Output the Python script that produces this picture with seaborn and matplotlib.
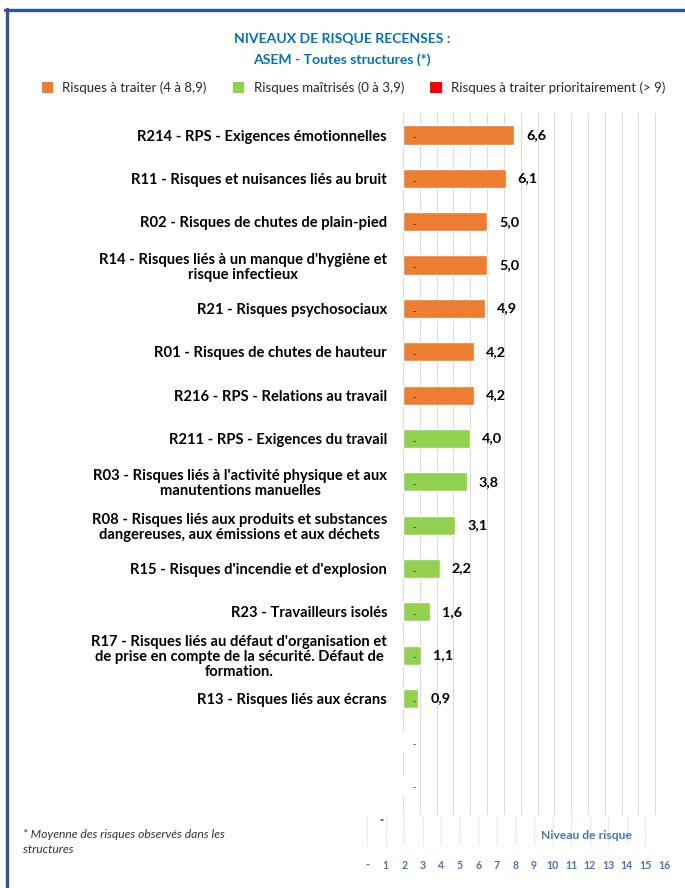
import matplotlib
matplotlib.use("Agg")
import matplotlib.pyplot as plt
from matplotlib.patches import Patch
from matplotlib.lines import Line2D
import seaborn as sns
import pandas as pd

# ---- data ----
categories = [
    "R214 - RPS - Exigences émotionnelles",
    "R11 - Risques et nuisances liés au bruit",
    "R02 - Risques de chutes de plain-pied",
    "R14 - Risques liés à un manque d'hygiène et\nrisque infectieux",
    "R21 - Risques psychosociaux",
    "R01 - Risques de chutes de hauteur",
    "R216 - RPS - Relations au travail",
    "R211 - RPS - Exigences du travail",
    "R03 - Risques liés à l'activité physique et aux\nmanutentions manuelles",
    "R08 - Risques liés aux produits et substances\ndangereuses, aux émissions et aux déchets",
    "R15 - Risques d'incendie et d'explosion",
    "R23 - Travailleurs isolés",
    "R17 - Risques liés au défaut d'organisation et\nde prise en compte de la sécurité. Défaut de\nformation.",
    "R13 - Risques liés aux écrans",
    " ",
    "  ",
]
values = [6.6, 6.1, 5.0, 5.0, 4.9, 4.2, 4.2, 4.0, 3.8, 3.1, 2.2, 1.6, 1.1, 0.9, 0.0, 0.0]
status = ["traiter"] * 7 + ["maitrise"] * 7 + ["maitrise"] * 2
show_value = [True] * 14 + [False] * 2
legend_labels = ["Risques à traiter (4 à 8,9)", "Risques maîtrisés (0 à 3,9)",
                 "Risques à traiter prioritairement (> 9)"]
bottom_ticks = ["-"] + [str(i) for i in range(1, 17)]

title_lines = "NIVEAUX DE RISQUE RECENSES :\nASEM - Toutes structures (*)"
footnote = "* Moyenne des risques observés dans les\nstructures"
axis_title = "Niveau de risque"

# ---- style ----
palette = {"traiter": "#ED7D31", "maitrise": "#92D050", "prioritaire": "#FF0000"}
sns.set_style("white")
plt.rcParams['font.family'] = ['Lato', 'DejaVu Sans']

W, H = 685, 888
fig = plt.figure(figsize=(W / 100, H / 100), dpi=100)

def fx(px):
    return px / W

def fy(py):
    return 1 - py / H

df = pd.DataFrame({"cat": categories, "val": values, "status": status})

ax = fig.add_axes([fx(403), fy(815), fx(672) - fx(403), fy(113) - fy(815)])
sns.barplot(data=df, x="val", y="cat", hue="status", palette=palette,
            dodge=False, legend=False, width=0.44, ax=ax, saturation=1, zorder=2)
ax.set_xlim(0, 16)
ax.set_ylim(15.69, -0.508)
ax.set_xticks(range(0, 17))
ax.vlines(ax.get_xticks(), 0, 1, transform=ax.get_xaxis_transform(),
          colors="#D9D9D9", linewidth=0.7, zorder=1, antialiased=False)
ax.set_xlabel("")
ax.set_ylabel("")
for s in ax.spines.values():
    s.set_visible(False)
ax.tick_params(axis="x", bottom=False, labelbottom=False)
ax.tick_params(axis="y", length=0, pad=11.5)
for lab in ax.get_yticklabels():
    lab.set_fontsize(10.6)
    lab.set_fontweight("bold")
    lab.set_multialignment("center")
    lab.set_color("#000000")
    lab.set_linespacing(1.1)

# value labels and small dash markers
for i, (v, sv) in enumerate(zip(values, show_value)):
    if sv:
        txt = f"{v:.1f}".replace(".", ",")
        ax.annotate(txt, xy=(v, i), xytext=(12, 0), textcoords="offset pixels",
                    ha="left", va="center", fontsize=10.4, fontweight="bold",
                    color="#000000", zorder=3)
    ax.annotate("-", xy=(0, i), xytext=(11, -3), textcoords="offset pixels",
                ha="center", va="center", fontsize=6, fontweight="bold",
                color="#222222", zorder=3)

# ---- bottom secondary axis ----
ax2 = fig.add_axes([fx(367), fy(845), fx(664) - fx(367), fy(815) - fy(845)])
ax2.set_xlim(0, 16)
ax2.set_ylim(0, 1)
ax2.set_xticks(range(0, 17))
ax2.set_xticklabels(bottom_ticks)
ax2.set_yticks([])
ax2.vlines(ax2.get_xticks(), 0, 1, colors="#D9D9D9", linewidth=1.0,
           linestyles=(0, (1, 1)), zorder=1)
for s in ax2.spines.values():
    s.set_visible(False)
ax2.tick_params(axis="x", length=0, pad=11, labelsize=7.6, labelcolor="#4472C4")
for lab in ax2.get_xticklabels():
    lab.set_fontweight("bold")
ax2.patch.set_alpha(0)

fig.text(fx(586.5), fy(835), axis_title, ha="center", va="center",
         fontsize=8.7, fontweight="bold", color="#4472C4")
fig.text(fx(381), fy(820), "=", ha="center", va="center", fontsize=5,
         color="#000000")

# ---- title ----
fig.text(fx(342), fy(49.5), title_lines, ha="center", va="center",
         fontsize=10.1, fontweight="bold", color="#0070C0", linespacing=1.75)

# ---- legend ----
handles = [Patch(facecolor=palette["traiter"], edgecolor="none"),
           Patch(facecolor=palette["maitrise"], edgecolor="none"),
           Patch(facecolor=palette["prioritaire"], edgecolor="none")]
fig.legend(handles, legend_labels, ncol=3, loc="center left",
           bbox_to_anchor=(fx(42), fy(88)), frameon=False, fontsize=9.5,
           handlelength=0.85, handleheight=0.85, handletextpad=0.7,
           columnspacing=2.0, borderpad=0, borderaxespad=0)

# ---- footnote ----
fig.text(fx(23), fy(842), footnote, ha="left", va="center", fontsize=8.7,
         style="italic", color="#333333", linespacing=1.55)

# ---- frame ----
fig.add_artist(Line2D([fx(5), 1], [fy(10.5), fy(10.5)], color="#2F5597",
                      linewidth=2.4, transform=fig.transFigure))
fig.add_artist(Line2D([fx(7), fx(7)], [0, fy(9.5)], color="#2F5597",
                      linewidth=2.4, transform=fig.transFigure))

fig.savefig("out.png", dpi=100, facecolor="white")
